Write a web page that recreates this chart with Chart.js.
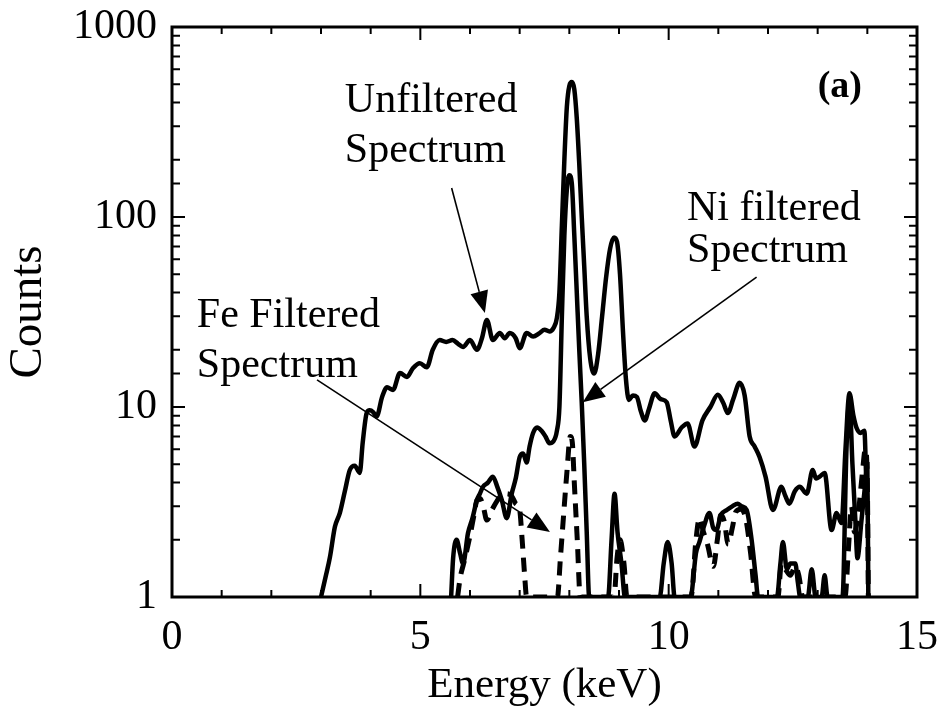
<!DOCTYPE html>
<html>
<head>
<meta charset="utf-8">
<script src="https://cdn.jsdelivr.net/npm/chart.js@4.4.1/dist/chart.umd.min.js"></script>
<style>
  html, body { margin: 0; padding: 0; background: #ffffff; }
  #wrap { width: 937px; height: 712px; }
</style>
</head>
<body>
<div id="wrap"><canvas id="c" width="937" height="712"></canvas></div>
<script>
// ---- Data ----
const unfilteredEnergy = [3.0,3.1,3.18,3.28,3.38,3.48,3.58,3.68,3.78,3.84,3.92,3.98,4.05,4.12,4.23,4.33,4.45,4.59,4.73,4.85,4.99,5.13,5.25,5.39,5.52,5.65,5.76,5.86,6.0,6.14,6.24,6.34,6.46,6.6,6.7,6.8,6.92,7.0,7.14,7.27,7.4,7.5,7.6,7.68,7.75,7.8,7.85,7.9,7.95,8.0,8.05,8.1,8.15,8.2,8.25,8.3,8.35,8.42,8.5,8.58,8.66,8.74,8.82,8.9,8.96,9.02,9.08,9.14,9.2,9.28,9.36,9.44,9.52,9.6,9.72,9.84,9.96,10.04,10.12,10.26,10.38,10.52,10.68,10.84,10.99,11.1,11.19,11.3,11.43,11.53,11.63,11.73,11.83,11.95,12.1,12.27,12.35,12.43,12.54,12.64,12.78,12.9,12.97,13.04,13.14,13.28,13.38,13.48,13.56,13.64,13.72,13.78,13.86,13.94,13.98,14.0];
const unfilteredCounts = [1,1.3,1.62,2.34,2.77,3.6,4.66,4.9,4.5,6.5,9.3,9.6,9.4,8.9,11.3,12.7,12.3,15.1,14.4,16,17.0,16.2,20,22.5,22,22.5,21.5,20.7,22.5,20,23,28.7,22.5,24.5,23,24.5,23,20.4,24.5,23.5,24.5,25.5,25,26,29.5,40,90,200,380,490,513,470,330,190,100,55,30,18,15,19,30,48,68,78,74,50,25,14,10.9,11.5,11.3,9.5,8.5,9.7,11.8,11,10.6,8.5,7.0,7.8,8.2,6.2,8.5,10,11.6,10.5,9.3,11,13.4,11.5,7,6.2,5.45,4.3,2.87,3.8,3.4,3.1,3.6,3.8,3.5,4.66,4.2,4.3,4.5,2.25,2.77,2.45,6,11.8,9,7.8,7.3,7.5,4,2.97];

const niEnergy = [5.62,5.66,5.73,5.8,5.86,5.96,6.05,6.14,6.2,6.26,6.36,6.46,6.55,6.64,6.74,6.84,6.92,7.0,7.07,7.14,7.2,7.27,7.35,7.44,7.52,7.6,7.68,7.75,7.8,7.85,7.9,7.95,8.0,8.05,8.1,8.15,8.2,8.25,8.3,8.35,8.4,8.78,8.85,8.91,8.97,9.05,9.12,9.82,9.9,9.98,10.06,10.12,10.44,10.55,10.62,10.72,10.82,10.9,10.96,11.05,11.17,11.28,11.39,11.47,11.57,11.67,11.75,11.8,12.18,12.25,12.3,12.38,12.45,12.55,12.6,12.65,12.8,12.88,12.96,13.08,13.14,13.2,13.5,13.58,13.64,13.7,13.76,13.8,13.88,13.96,14.0,14.02];
const niCounts = [1,1.6,2.0,1.7,1.5,2.17,2.6,3.24,3.5,3.8,4.0,4.3,3.8,3.24,2.6,3.5,4.2,5.45,5.7,5.1,6.2,7.3,7.8,7.5,7.0,6.45,6.6,7.5,10,30,80,140,166,150,80,40,20,10.5,5,2.2,1,1,2.0,3.5,2.2,1.5,1,1,1.5,1.95,1.5,1,1,1.7,1.95,2.4,2.77,2.3,2.25,2.7,2.87,3.0,3.1,3.0,2.87,2.0,1.3,1,1,1.5,1.95,1.4,1.5,1.5,1.2,1,1,1.4,1,1,1.3,1,1,6,11,5,2.5,1.6,2.5,4,5,1];

const feEnergy = [5.75,5.8,5.9,6.0,6.08,6.14,6.2,6.26,6.34,6.45,6.6,6.72,6.84,6.92,7.0,7.05,7.1,7.14,7.76,7.82,7.88,7.95,8.02,8.06,8.1,8.16,8.22,8.9,8.96,9.02,9.1,9.16,10.45,10.55,10.62,10.7,10.78,10.9,10.98,11.05,11.12,11.2,11.28,11.35,11.45,11.55,11.65,11.75,12.2,12.27,12.35,12.45,12.55,12.62,12.7,13.55,13.62,13.68,13.74,13.82,13.9,13.96,14.0,14.02];
const feCounts = [1,1.25,1.6,2.1,2.7,3.24,3.3,3.05,2.54,2.9,3.36,3.5,3.4,3.1,2.87,2.0,1.3,1,1,1.6,2.6,4.5,7.0,6.5,4,2,1,1,1.6,2.0,1.5,1,1,2.0,2.6,2.2,1.9,1.45,2.0,2.7,2.5,1.9,2.3,2.8,2.9,2.6,1.7,1,1,1.5,1.4,1.3,1.45,1.3,1,1,1.8,3,2.2,2.8,4.5,6,4,1];

const xTickLabels = ['0','5','10','15'];
const yTickLabels = ['1','10','100','1000'];

// Annotation text (data coordinates) and arrows (data coordinates)
const noteTexts = [
  {text:'Unfiltered', e:3.48, c:357, bold:false},
  {text:'Spectrum',   e:3.48, c:195, bold:false},
  {text:'Ni filtered',e:10.37, c:96.5, bold:false},
  {text:'Spectrum',   e:10.37, c:58, bold:false},
  {text:'Fe Filtered',e:0.50, c:26.4, bold:false},
  {text:'Spectrum',   e:0.50, c:14.4, bold:false},
  {text:'(a)',        e:13.0, c:428, bold:true}
];
const noteArrows = [
  {from:[5.63,142], to:[6.30,31.2]},
  {from:[11.77,48.3], to:[8.27,10.6]},
  {from:[2.92,13.9], to:[7.61,2.2]}
];

function pts(xs, ys){ return xs.map((x,i)=>({x:x, y:ys[i]})); }

const SERIF = '"Liberation Serif", "Times New Roman", serif';

const framePlugin = {
  id: 'frameTicks',
  afterDatasetsDraw(chart){
    const ctx = chart.ctx;
    const a = chart.chartArea;
    const xs = chart.scales.x, ys = chart.scales.y;
    ctx.save();
    ctx.strokeStyle = '#000';
    ctx.lineWidth = 3;
    ctx.strokeRect(a.left, a.top, a.right - a.left, a.bottom - a.top);
    ctx.lineWidth = 2;
    xs.ticks.forEach(t => {
      const px = xs.getPixelForValue(t.value);
      const major = Math.abs(t.value % 5) < 1e-9;
      const len = major ? 13 : 7;
      ctx.beginPath();
      ctx.moveTo(px, a.bottom); ctx.lineTo(px, a.bottom - len);
      ctx.moveTo(px, a.top); ctx.lineTo(px, a.top + len);
      ctx.stroke();
    });
    ys.ticks.forEach(t => {
      const py = ys.getPixelForValue(t.value);
      const lg = Math.log10(t.value);
      const major = Math.abs(lg - Math.round(lg)) < 1e-9;
      const len = major ? 13 : 8;
      ctx.beginPath();
      ctx.moveTo(a.left, py); ctx.lineTo(a.left + len, py);
      ctx.moveTo(a.right, py); ctx.lineTo(a.right - len, py);
      ctx.stroke();
    });
    ctx.lineWidth = 1.6;
    ctx.fillStyle = '#000';
    noteArrows.forEach(ar => {
      const x1 = xs.getPixelForValue(ar.from[0]), y1 = ys.getPixelForValue(ar.from[1]);
      const x2 = xs.getPixelForValue(ar.to[0]),   y2 = ys.getPixelForValue(ar.to[1]);
      const ang = Math.atan2(y2 - y1, x2 - x1);
      const hl = 22, hw = 9;
      const bx = x2 - hl*Math.cos(ang), by = y2 - hl*Math.sin(ang);
      ctx.beginPath();
      ctx.moveTo(x1, y1); ctx.lineTo(bx, by); ctx.stroke();
      ctx.beginPath();
      ctx.moveTo(x2, y2);
      ctx.lineTo(bx + hw*Math.sin(ang), by - hw*Math.cos(ang));
      ctx.lineTo(bx - hw*Math.sin(ang), by + hw*Math.cos(ang));
      ctx.closePath(); ctx.fill();
    });
    ctx.textBaseline = 'alphabetic';
    ctx.textAlign = 'left';
    noteTexts.forEach(n => {
      ctx.font = (n.bold ? 'bold 38px ' : '42px ') + SERIF;
      ctx.fillText(n.text, xs.getPixelForValue(n.e), ys.getPixelForValue(n.c));
    });
    ctx.restore();
  }
};

function zeroPad(s){ s.paddingTop = 0; s.paddingBottom = 0; s.paddingLeft = 0; s.paddingRight = 0; }

new Chart(document.getElementById('c'), {
  type: 'line',
  data: {
    datasets: [
      { label: 'Unfiltered Spectrum', data: pts(unfilteredEnergy, unfilteredCounts),
        borderColor: '#000', borderWidth: 4.5, pointRadius: 0, cubicInterpolationMode: 'monotone', fill: false },
      { label: 'Ni filtered Spectrum', data: pts(niEnergy, niCounts),
        borderColor: '#000', borderWidth: 4.5, pointRadius: 0, cubicInterpolationMode: 'monotone', fill: false },
      { label: 'Fe Filtered Spectrum', data: pts(feEnergy, feCounts),
        borderColor: '#000', borderWidth: 5, borderDash: [14, 9], pointRadius: 0, cubicInterpolationMode: 'monotone', fill: false }
    ]
  },
  options: {
    responsive: false,
    animation: false,
    devicePixelRatio: 1,
    layout: { padding: { top: 27, right: 20, left: 0, bottom: 0 } },
    plugins: { legend: { display: false }, tooltip: { enabled: false } },
    scales: {
      x: {
        type: 'linear', min: 0, max: 15,
        afterFit(s){ s.height = 115; zeroPad(s); },
        border: { display: false },
        grid: { display: true, drawOnChartArea: false, drawTicks: false, color: 'rgba(0,0,0,0)' },
        ticks: {
          stepSize: 1, autoSkip: false, maxRotation: 0, padding: 16, color: '#000',
          font: { family: SERIF, size: 42 },
          callback: (v) => { const s = String(v); return xTickLabels.includes(s) ? s : ''; }
        },
        title: { display: true, text: 'Energy (keV)', color: '#000',
          font: { family: SERIF, size: 43 }, padding: { top: 0, bottom: 0 } }
      },
      y: {
        type: 'logarithmic', min: 1, max: 1000,
        afterFit(s){ s.width = 172; zeroPad(s); },
        border: { display: false },
        grid: { display: true, drawOnChartArea: false, drawTicks: false, color: 'rgba(0,0,0,0)' },
        ticks: {
          autoSkip: false, padding: 15, color: '#000',
          font: { family: SERIF, size: 42 },
          callback: (v) => { const s = String(v); return yTickLabels.includes(s) ? s : ''; }
        },
        title: { display: true, text: 'Counts', color: '#000',
          font: { family: SERIF, size: 47 }, padding: { top: 0, bottom: 0 } }
      }
    }
  },
  plugins: [framePlugin]
});
</script>
</body>
</html>
